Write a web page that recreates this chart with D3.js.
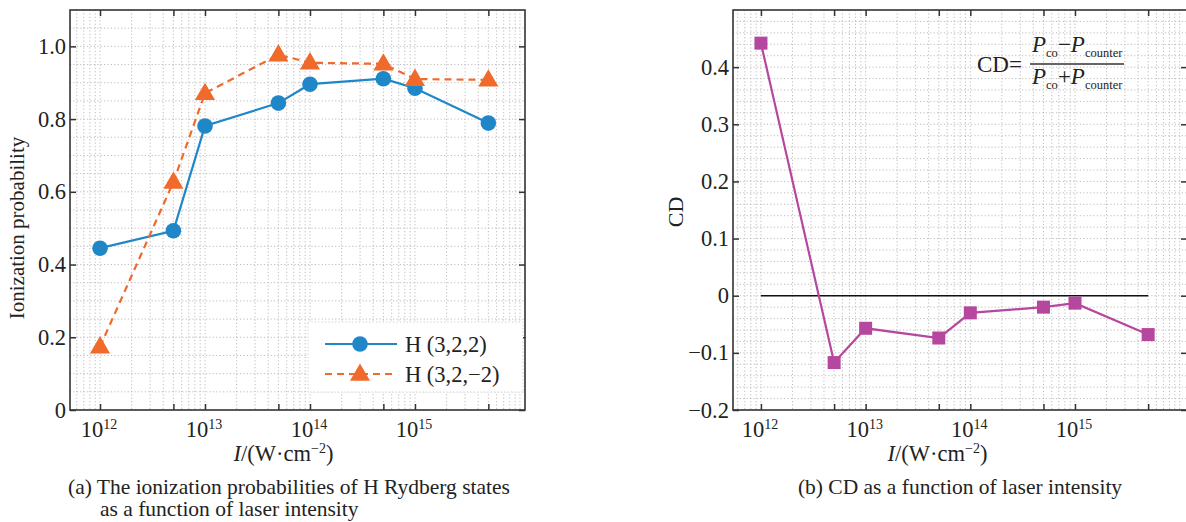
<!DOCTYPE html>
<html>
<head>
<meta charset="utf-8">
<script src="https://cdn.jsdelivr.net/npm/d3@7"></script>
<style>
  html, body { margin: 0; padding: 0; background: #fff; }
  svg text { font-family: "Liberation Serif", "DejaVu Serif", serif; fill: #222; }
</style>
</head>
<body>
<svg id="fig" width="1186" height="522"></svg>
<script>
// Laser intensities (W/cm^2) at which the states were computed
const intensities = [1e12, 5e12, 1e13, 5e13, 1e14, 5e14, 1e15, 5e15];
// Ionization probability of H(3,2,2)
const probM2 = [0.445, 0.493, 0.781, 0.844, 0.896, 0.911, 0.885, 0.789];
// Ionization probability of H(3,2,-2)
const probMm2 = [0.174, 0.627, 0.871, 0.977, 0.955, 0.952, 0.910, 0.908];
// Circular dichroism
const cdValues = [0.442, -0.117, -0.057, -0.074, -0.030, -0.020, -0.013, -0.068];

const xMajorExps = [12, 13, 14, 15];
const xTickValues = [1e12, 5e12, 1e13, 5e13, 1e14, 5e14, 1e15, 5e15];
const probTicks = [0, 0.2, 0.4, 0.6, 0.8, 1.0];
const probTickLabels = ["0", "0.2", "0.4", "0.6", "0.8", "1.0"];
const cdTicks = [-0.2, -0.1, 0, 0.1, 0.2, 0.3, 0.4];
const cdTickLabels = ["\u22120.2", "\u22120.1", "0", "0.1", "0.2", "0.3", "0.4"];

const seriesNames = ["H (3,2,2)", "H (3,2,\u22122)"];
const colors = { blue: "#1f87c8", orange: "#ef6a2b", purple: "#b6479e" };

const svg = d3.select("#fig");

// log-spaced minor positions (2..9 per decade) spanning the domain
function logMinors(lo, hi) {
  const out = [];
  for (let e = Math.floor(Math.log10(lo)); e <= Math.ceil(Math.log10(hi)); e++) {
    for (let k = 1; k <= 9; k++) {
      const v = k * Math.pow(10, e);
      if (v > lo && v < hi) out.push(v);
    }
  }
  return out;
}

function drawPanel(opt) {
  const { left, right, top, bottom, xDomain, yDomain, yGridStep } = opt;
  const g = svg.append("g");
  const x = d3.scaleLog().domain(xDomain).range([left, right]);
  const y = d3.scaleLinear().domain(yDomain).range([bottom, top]);

  // dotted grid
  const grid = g.append("g").attr("stroke", "#b5b5b5").attr("stroke-width", 0.9)
    .attr("stroke-dasharray", "1.2,2.2");
  grid.selectAll("line.v").data(logMinors(xDomain[0], xDomain[1])).join("line")
    .attr("x1", d => x(d)).attr("x2", d => x(d)).attr("y1", top).attr("y2", bottom);
  const hVals = d3.range(Math.ceil(yDomain[0] / yGridStep - 1e-6), Math.floor(yDomain[1] / yGridStep + 1e-6) + 1)
    .map(i => i * yGridStep).filter(v => y(v) > top + 0.5 && y(v) < bottom - 0.5);
  grid.selectAll("line.h").data(hVals).join("line")
    .attr("x1", left).attr("x2", right).attr("y1", d => y(d)).attr("y2", d => y(d));

  // axes with inward ticks on all four sides
  const tl = 6;
  const ax = g.append("g").attr("class", "axes");
  ax.append("g").attr("transform", `translate(0,${bottom})`)
    .call(d3.axisBottom(x).tickValues(xTickValues).tickSizeInner(-tl).tickSizeOuter(0).tickFormat(""));
  ax.append("g").attr("transform", `translate(0,${top})`)
    .call(d3.axisTop(x).tickValues(xTickValues).tickSizeInner(-tl).tickSizeOuter(0).tickFormat(""));
  ax.append("g").attr("transform", `translate(${left},0)`)
    .call(d3.axisLeft(y).tickValues(opt.yTicks).tickSizeInner(-tl).tickSizeOuter(0).tickFormat(""));
  ax.append("g").attr("transform", `translate(${right},0)`)
    .call(d3.axisRight(y).tickValues(opt.yTicks).tickSizeInner(-tl).tickSizeOuter(0).tickFormat(""));
  ax.selectAll(".domain").remove();
  ax.selectAll(".tick line").attr("stroke", "#333").attr("stroke-width", 1.5);

  g.append("rect").attr("x", left).attr("y", top).attr("width", right - left).attr("height", bottom - top)
    .attr("fill", "none").attr("stroke", "#333").attr("stroke-width", 1.6);

  // tick labels
  const labs = g.append("g").attr("font-size", 22.5);
  labs.selectAll("text.y").data(opt.yTicks).join("text")
    .attr("x", left - 4).attr("y", d => y(d) + 7.5).attr("text-anchor", "end")
    .text((d, i) => opt.yTickLabels[i]);
  const xl = labs.selectAll("text.x").data(xMajorExps).join("text")
    .attr("x", d => x(Math.pow(10, d)) - 1).attr("y", bottom + 27).attr("text-anchor", "middle");
  xl.append("tspan").text("10");
  xl.append("tspan").attr("font-size", 14).attr("dy", -8).text(d => d);

  // x title
  const xt = g.append("text").attr("x", (left + Math.min(right, 1186)) / 2 + opt.xTitleShift)
    .attr("y", bottom + 51).attr("text-anchor", "middle").attr("font-size", 22.5);
  xt.append("tspan").attr("font-style", "italic").text("I");
  xt.append("tspan").text("/(W\u00b7cm");
  xt.append("tspan").attr("font-size", 14).attr("dy", -8).text("\u22122");
  xt.append("tspan").attr("dy", 8).text(")");

  return { g, x, y };
}

// ---- (a) ionization probabilities ----
const pa = drawPanel({
  left: 70, right: 525, top: 10, bottom: 410,
  xDomain: [Math.pow(10, 11.714), Math.pow(10, 16.048)],
  yDomain: [0, 1.1], yGridStep: 0.05,
  yTicks: probTicks, yTickLabels: probTickLabels, xTitleShift: -14
});

const lineA = d3.line().x((d, i) => pa.x(intensities[i])).y(d => pa.y(d));
pa.g.append("path").datum(probM2).attr("d", lineA)
  .attr("fill", "none").attr("stroke", colors.blue).attr("stroke-width", 2.2);
pa.g.append("path").datum(probMm2).attr("d", lineA)
  .attr("fill", "none").attr("stroke", colors.orange).attr("stroke-width", 2.2)
  .attr("stroke-dasharray", "7,5");
pa.g.selectAll("circle.m").data(probM2).join("circle")
  .attr("cx", (d, i) => pa.x(intensities[i])).attr("cy", d => pa.y(d)).attr("r", 7.8)
  .attr("fill", colors.blue);
const tri = d3.symbol().type(d3.symbolTriangle).size(175);
pa.g.selectAll("path.t").data(probMm2).join("path")
  .attr("d", tri).attr("transform", (d, i) => `translate(${pa.x(intensities[i])},${pa.y(d) + 1})`)
  .attr("fill", colors.orange);

// legend
const lg = pa.g.append("g");
lg.append("rect").attr("x", 308).attr("y", 322).attr("width", 215).attr("height", 70)
  .attr("fill", "#fff").attr("stroke", "#c4c4c4").attr("stroke-width", 0.9).attr("stroke-dasharray", "1.2,2.2");
lg.append("line").attr("x1", 325).attr("x2", 397).attr("y1", 344).attr("y2", 344)
  .attr("stroke", colors.blue).attr("stroke-width", 2.2);
lg.append("circle").attr("cx", 360).attr("cy", 344).attr("r", 7.8).attr("fill", colors.blue);
lg.append("line").attr("x1", 325).attr("x2", 397).attr("y1", 374).attr("y2", 374)
  .attr("stroke", colors.orange).attr("stroke-width", 2.2).attr("stroke-dasharray", "7,5");
lg.append("path").attr("d", tri).attr("transform", "translate(360,375)").attr("fill", colors.orange);
lg.selectAll("text").data(seriesNames).join("text")
  .attr("x", 405).attr("y", (d, i) => 352 + i * 30).attr("font-size", 22.5).text(d => d);

// y title
svg.append("text").attr("transform", "translate(24,228) rotate(-90)").attr("text-anchor", "middle")
  .attr("font-size", 21).text("Ionization probability");

// ---- (b) circular dichroism ----
const pb = drawPanel({
  left: 733, right: 1187, top: 10, bottom: 410,
  xDomain: [Math.pow(10, 11.733), Math.pow(10, 16.07)],
  yDomain: [-0.2, 0.5], yGridStep: 0.02,
  yTicks: cdTicks, yTickLabels: cdTickLabels, xTitleShift: -22
});

// zero reference line across the sampled intensity range
pb.g.append("line")
  .attr("x1", pb.x(intensities[0])).attr("x2", pb.x(intensities[intensities.length - 1]))
  .attr("y1", pb.y(0)).attr("y2", pb.y(0)).attr("stroke", "#111").attr("stroke-width", 1.5);

const lineB = d3.line().x((d, i) => pb.x(intensities[i])).y(d => pb.y(d));
pb.g.append("path").datum(cdValues).attr("d", lineB)
  .attr("fill", "none").attr("stroke", colors.purple).attr("stroke-width", 2.2);
pb.g.selectAll("rect.s").data(cdValues).join("rect")
  .attr("x", (d, i) => pb.x(intensities[i]) - 6.5).attr("y", d => pb.y(d) - 6.5)
  .attr("width", 13).attr("height", 13).attr("fill", colors.purple);

svg.append("text").attr("transform", "translate(683,212) rotate(-90)").attr("text-anchor", "middle")
  .attr("font-size", 22).text("CD");

// CD definition
const fm = svg.append("g").attr("font-size", 23);
fm.append("text").attr("x", 977).attr("y", 72).text("CD=");
const num = fm.append("text").attr("x", 1032).attr("y", 52);
num.append("tspan").attr("font-style", "italic").text("P");
num.append("tspan").attr("font-size", 12.5).attr("dy", 5).text("co");
num.append("tspan").attr("dy", -5).text("\u2212");
num.append("tspan").attr("font-style", "italic").text("P");
num.append("tspan").attr("font-size", 12.5).attr("dy", 5).text("counter");
fm.append("line").attr("x1", 1030).attr("x2", 1124).attr("y1", 64).attr("y2", 64)
  .attr("stroke", "#333").attr("stroke-width", 1.3);
const den = fm.append("text").attr("x", 1032).attr("y", 84);
den.append("tspan").attr("font-style", "italic").text("P");
den.append("tspan").attr("font-size", 12.5).attr("dy", 5).text("co");
den.append("tspan").attr("dy", -5).text("+");
den.append("tspan").attr("font-style", "italic").text("P");
den.append("tspan").attr("font-size", 12.5).attr("dy", 5).text("counter");

// captions
const cap = svg.append("g").attr("font-size", 21.5);
cap.append("text").attr("x", 68).attr("y", 494).text("(a) The ionization probabilities of H Rydberg states");
cap.append("text").attr("x", 100).attr("y", 516).text("as a function of laser intensity");
cap.append("text").attr("x", 960).attr("y", 494).attr("text-anchor", "middle")
  .text("(b) CD as a function of laser intensity");
</script>
</body>
</html>
